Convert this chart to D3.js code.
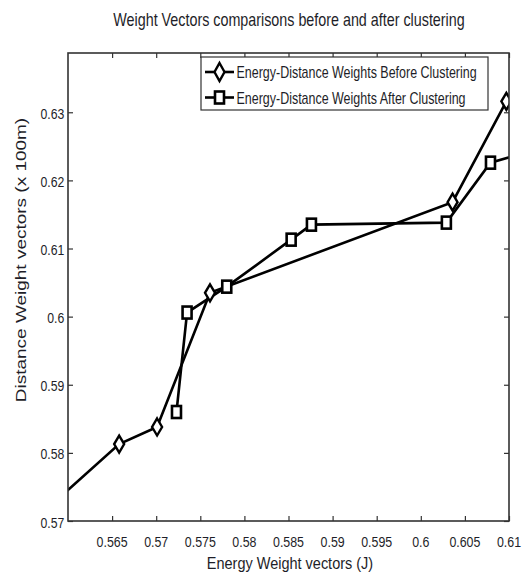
<!DOCTYPE html>
<html><head><meta charset="utf-8">
<script src="https://cdn.jsdelivr.net/npm/d3@7"></script>
<style>body{margin:0;background:#fff;} text{font-family:"Liberation Sans",Arial,sans-serif;}</style>
</head><body>
<svg id="c" width="523" height="577"></svg>
<script>
const titleText = "Weight Vectors comparisons before and after clustering";
const xLabel = "Energy Weight vectors (J)";
const yLabel = "Distance Weight vectors (x 100m)";
const seriesNames = ["Energy-Distance Weights Before Clustering", "Energy-Distance Weights After Clustering"];
const beforeX = [0.559, 0.5658, 0.5701, 0.5761, 0.6036, 0.6097];
const beforeY = [0.5734, 0.5813, 0.5838, 0.6035, 0.6168, 0.6316];
const afterX = [0.5723, 0.5735, 0.5780, 0.5853, 0.5876, 0.6029, 0.6079, 0.6125];
const afterY = [0.5860, 0.6006, 0.6044, 0.6113, 0.6135, 0.6138, 0.6226, 0.6243];
const xTicks = [0.565, 0.57, 0.575, 0.58, 0.585, 0.59, 0.595, 0.6, 0.605, 0.61];
const xTickLabels = ["0.565","0.57","0.575","0.58","0.585","0.59","0.595","0.6","0.605","0.61"];
const yTicks = [0.57, 0.58, 0.59, 0.6, 0.61, 0.62, 0.63];
const yTickLabels = ["0.57","0.58","0.59","0.6","0.61","0.62","0.63"];

const svg = d3.select("#c");
const L = 68, R = 509, T = 53, B = 521;
const x = d3.scaleLinear().domain([0.56, 0.61]).range([L, R]);
const y = d3.scaleLinear().domain([0.57, 0.6387]).range([B, T]);
const textColor = "#1e1e28";

svg.append("defs").append("clipPath").attr("id","clip")
  .append("rect").attr("x",L).attr("y",T).attr("width",R-L).attr("height",B-T);

const axisColor = "#333";
const tl = 5;
const gx = svg.append("g").attr("transform",`translate(0,${B})`)
  .call(d3.axisBottom(x).tickValues(xTicks).tickFormat("").tickSizeInner(-tl).tickSizeOuter(0));
const gxt = svg.append("g").attr("transform",`translate(0,${T})`)
  .call(d3.axisTop(x).tickValues(xTicks).tickFormat("").tickSizeInner(-tl).tickSizeOuter(0));
const gy = svg.append("g").attr("transform",`translate(${L},0)`)
  .call(d3.axisLeft(y).tickValues(yTicks).tickFormat("").tickSizeInner(-tl).tickSizeOuter(0));
const gyr = svg.append("g").attr("transform",`translate(${R},0)`)
  .call(d3.axisRight(y).tickValues(yTicks).tickFormat("").tickSizeInner(-tl).tickSizeOuter(0));
[gx,gxt,gy,gyr].forEach(g=>{
  g.select(".domain").remove();
  g.selectAll("line").attr("stroke",axisColor).attr("stroke-width",1.2);
  g.selectAll("text").remove();
});

function ctext(px, py, str, size, anchor, sx){
  return svg.append("text")
    .attr("transform",`translate(${px},${py}) scale(${sx},1)`)
    .attr("text-anchor",anchor).style("font-size",size+"px").attr("fill",textColor).text(str);
}
xTicks.forEach((v,i)=> ctext(x(v), 546.5, xTickLabels[i], 15.5, "middle", 0.8));
yTicks.forEach((v,i)=> ctext(64.3, y(v)+6.5, yTickLabels[i], 15.5, "end", 0.79));

const line = d3.line().x(d=>x(d[0])).y(d=>y(d[1]));
const before = beforeX.map((v,i)=>[v, beforeY[i]]);
const after = afterX.map((v,i)=>[v, afterY[i]]);
const plot = svg.append("g").attr("clip-path","url(#clip)");
plot.append("path").datum(before).attr("d",line).attr("fill","none").attr("stroke","#000").attr("stroke-width",2.6);
plot.append("path").datum(after).attr("d",line).attr("fill","none").attr("stroke","#000").attr("stroke-width",2.6);

const diamond = (cx,cy,w,h)=>`M${cx},${cy-h}L${cx+w},${cy}L${cx},${cy+h}L${cx-w},${cy}Z`;
plot.selectAll(".dm").data(before).enter().append("path")
  .attr("d",d=>diamond(x(d[0]),y(d[1]),5,8.5))
  .attr("fill","#fff").attr("stroke","#000").attr("stroke-width",2.4);
plot.selectAll(".sq").data(after).enter().append("rect")
  .attr("x",d=>x(d[0])-4.5).attr("y",d=>y(d[1])-6).attr("width",9).attr("height",12)
  .attr("fill","#fff").attr("stroke","#000").attr("stroke-width",2.6);

svg.append("rect").attr("x",L).attr("y",T).attr("width",R-L).attr("height",B-T)
  .attr("fill","none").attr("stroke",axisColor).attr("stroke-width",1.6);

const lg = svg.append("g");
lg.append("rect").attr("x",201).attr("y",57).attr("width",287).attr("height",53)
  .attr("fill","#fff").attr("stroke","#333").attr("stroke-width",1.2);
const rows = [72, 97.5];
rows.forEach((ry,i)=>{
  lg.append("line").attr("x1",205).attr("x2",234).attr("y1",ry).attr("y2",ry).attr("stroke","#000").attr("stroke-width",2.6);
  if(i===0) lg.append("path").attr("d",diamond(219.5,ry,5,9)).attr("fill","#fff").attr("stroke","#000").attr("stroke-width",2.4);
  else lg.append("rect").attr("x",215).attr("y",ry-6).attr("width",9).attr("height",12).attr("fill","#fff").attr("stroke","#000").attr("stroke-width",2.6);
  ctext(236.5, ry+6.2, seriesNames[i], 16, "start", 0.78);
});

ctext(289, 26, titleText, 18, "middle", 0.796);
ctext(290, 569.3, xLabel, 17, "middle", 0.853);
svg.append("text").attr("transform","translate(25.5,260) rotate(-90) scale(1,0.78)")
  .attr("text-anchor","middle").style("font-size","19px").attr("fill",textColor).text(yLabel);
</script>
</body></html>
